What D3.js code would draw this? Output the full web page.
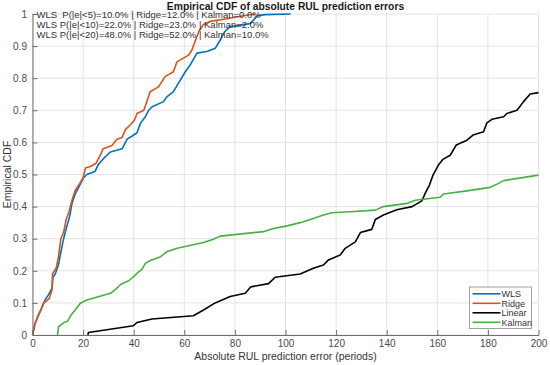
<!DOCTYPE html>
<html>
<head>
<meta charset="utf-8">
<script src="https://cdn.jsdelivr.net/npm/d3@7"></script>
<style>
  body { margin: 0; background: #fff; }
  text { font-family: "Liberation Sans", Arial, sans-serif; }
</style>
</head>
<body>
<div id="wrapper"></div>
<script>
// values
const wlsX = [0, 1.05, 2.4, 4.1, 5, 6.3, 7.7, 8.1, 9, 10.3, 11, 12.3, 13.6, 14.7, 15.6, 16.9, 18.9, 20.2, 21.5, 24.8, 25.9, 28.1, 30.8, 35.4, 37.4, 39.4, 41.3, 42.7, 44.6, 45.9, 47.3, 51.8, 53.1, 55.7, 58.4, 60.4, 62.3, 65, 68.9, 72.2, 74.2, 76, 78, 86, 89, 92, 102];
const wlsY = [0, 0.036, 0.062, 0.093, 0.11, 0.125, 0.145, 0.18, 0.19, 0.22, 0.25, 0.3, 0.34, 0.37, 0.41, 0.44, 0.47, 0.49, 0.5, 0.51, 0.53, 0.55, 0.57, 0.58, 0.61, 0.62, 0.63, 0.66, 0.68, 0.7, 0.711, 0.727, 0.742, 0.758, 0.794, 0.82, 0.841, 0.878, 0.883, 0.893, 0.919, 0.945, 0.96, 0.97, 0.995, 0.998, 1.0];

const ridgeX = [0, 0.8, 2, 3.3, 4.4, 5.4, 6.7, 7.7, 7.9, 9.4, 10.3, 11.2, 12.3, 13.3, 14.5, 15.6, 16.9, 18.5, 20, 20.9, 22.9, 25.1, 26.8, 27.9, 31.4, 33.4, 35.4, 36.7, 38.7, 40.3, 41.3, 44, 45.3, 46.5, 49.8, 52.4, 55.7, 57.1, 61.7, 63, 64.5, 66, 67.6, 70.2, 76.8, 82.1, 88];
const ridgeY = [0, 0.03, 0.057, 0.078, 0.1, 0.105, 0.115, 0.14, 0.19, 0.21, 0.245, 0.3, 0.32, 0.36, 0.385, 0.42, 0.45, 0.47, 0.49, 0.52, 0.525, 0.535, 0.56, 0.58, 0.59, 0.61, 0.615, 0.64, 0.655, 0.67, 0.69, 0.7, 0.73, 0.758, 0.773, 0.805, 0.82, 0.851, 0.872, 0.888, 0.92, 0.95, 0.967, 0.977, 0.985, 0.993, 1.0];

const linearX = [21.9, 22.1, 39.9, 41.3, 47.2, 63.6, 67.6, 72.2, 78.1, 84.1, 86.3, 93.3, 95.9, 105.8, 111, 115, 117, 121.6, 123.6, 127.6, 129.6, 134.1, 135.5, 138.7, 144, 150, 153.9, 155.2, 156.9, 158.3, 160.5, 162.2, 165.1, 167.5, 171.7, 174.1, 178.3, 179.6, 181.6, 186.2, 187.5, 191.5, 194.1, 196.7, 200];
const linearY = [0, 0.008, 0.029, 0.039, 0.05, 0.06, 0.078, 0.1, 0.12, 0.13, 0.15, 0.16, 0.18, 0.19, 0.208, 0.218, 0.234, 0.249, 0.27, 0.29, 0.319, 0.329, 0.36, 0.374, 0.39, 0.4, 0.418, 0.441, 0.467, 0.498, 0.53, 0.547, 0.56, 0.592, 0.607, 0.623, 0.633, 0.661, 0.672, 0.68, 0.69, 0.7, 0.727, 0.751, 0.755];

const kalmanX = [9.9, 10.3, 12.3, 14, 15.2, 16.9, 18.9, 21.5, 30.8, 32.8, 35, 38, 40, 41.3, 43.3, 44.6, 46.6, 50.6, 53.2, 57.2, 67.6, 71.5, 74.2, 91.3, 95.3, 100.6, 105.8, 109.8, 114.4, 118.3, 125.6, 135.5, 138.7, 148, 151.3, 161.1, 162.4, 171.7, 180.9, 183.6, 186.2, 200];
const kalmanY = [0, 0.026, 0.038, 0.044, 0.062, 0.078, 0.099, 0.109, 0.13, 0.142, 0.158, 0.169, 0.182, 0.192, 0.205, 0.223, 0.232, 0.244, 0.26, 0.27, 0.288, 0.298, 0.308, 0.322, 0.332, 0.34, 0.35, 0.36, 0.372, 0.381, 0.384, 0.389, 0.4, 0.41, 0.42, 0.429, 0.439, 0.449, 0.46, 0.47, 0.481, 0.498];

const seriesNames = ["WLS", "Ridge", "Linear", "Kalman"];
const seriesColors = ["#0072BD", "#D95319", "#000000", "#45B045"];
const xTicks = [0, 20, 40, 60, 80, 100, 120, 140, 160, 180, 200];
const yTicks = [0, 0.1, 0.2, 0.3, 0.4, 0.5, 0.6, 0.7, 0.8, 0.9, 1];
const noteLines = [
  "WLS  P(|e|<5)=10.0% | Ridge=12.0% | Kalman=0.0%",
  "WLS P(|e|<10)=22.0% | Ridge=23.0% | Kalman=2.0%",
  "WLS P(|e|<20)=48.0% | Ridge=52.0% | Kalman=10.0%"
];

function drawChart() {
  const xs = [wlsX, ridgeX, linearX, kalmanX];
  const ys = [wlsY, ridgeY, linearY, kalmanY];
  const dataset = seriesNames.map((name, i) => ({
    name: name,
    color: seriesColors[i],
    points: xs[i].map((x, j) => ({ x: x, y: ys[i][j] }))
  }));

  let dimensions = {
    width: 550,
    height: 365,
    margin: { top: 14, right: 11.5, bottom: 30, left: 32.5 }
  };
  dimensions.boundedWidth = dimensions.width - dimensions.margin.left - dimensions.margin.right;
  dimensions.boundedHeight = dimensions.height - dimensions.margin.top - dimensions.margin.bottom;

  const wrapper = d3.select("#wrapper")
    .append("svg")
      .attr("width", dimensions.width)
      .attr("height", dimensions.height);

  const bounds = wrapper.append("g")
    .attr("transform", `translate(${dimensions.margin.left},${dimensions.margin.top})`);

  const xScale = d3.scaleLinear()
    .domain([0, 200])
    .range([0, dimensions.boundedWidth]);
  const yScale = d3.scaleLinear()
    .domain([0, 1])
    .range([dimensions.boundedHeight, 0]);

  // grid
  bounds.append("g")
    .selectAll("line")
    .data(xTicks)
    .join("line")
      .attr("x1", d => xScale(d)).attr("x2", d => xScale(d))
      .attr("y1", 0).attr("y2", dimensions.boundedHeight)
      .attr("stroke", "#e3e3e3").attr("stroke-width", 1);
  bounds.append("g")
    .selectAll("line")
    .data(yTicks)
    .join("line")
      .attr("x1", 0).attr("x2", dimensions.boundedWidth)
      .attr("y1", d => yScale(d)).attr("y2", d => yScale(d))
      .attr("stroke", "#e3e3e3").attr("stroke-width", 1);

  // curves
  const lineGen = d3.line()
    .x(d => xScale(d.x))
    .y(d => yScale(d.y));

  bounds.append("g")
    .selectAll("path")
    .data(dataset)
    .join("path")
      .attr("d", d => lineGen(d.points))
      .attr("fill", "none")
      .attr("stroke", d => d.color)
      .attr("stroke-width", 1.6)
      .attr("stroke-linejoin", "round");

  // axes, ticks pointing inward like matlab
  const xAxis = d3.axisBottom(xScale).tickValues(xTicks).tickSizeInner(-5).tickSizeOuter(0).tickPadding(4.5);
  const yAxis = d3.axisLeft(yScale).tickValues(yTicks).tickFormat(d3.format("")).tickSizeInner(-5).tickSizeOuter(0).tickPadding(5.5);

  const gx = bounds.append("g")
    .attr("transform", `translate(0,${dimensions.boundedHeight})`)
    .call(xAxis);
  const gy = bounds.append("g").call(yAxis);
  [gx, gy].forEach(g => {
    g.select(".domain").attr("stroke", "#6e6e6e");
    g.selectAll(".tick line").attr("stroke", "#6e6e6e");
    g.selectAll(".tick text")
      .attr("fill", "#4a4a4a")
      .style("font-size", "10px")
      .style("font-family", "'Liberation Sans', Arial, sans-serif");
  });

  // labels
  wrapper.append("text")
    .attr("x", dimensions.margin.left + dimensions.boundedWidth / 2)
    .attr("y", 10)
    .attr("text-anchor", "middle")
    .style("font-size", "10.3px")
    .style("font-weight", "bold")
    .attr("fill", "#1a1a1a")
    .text("Empirical CDF of absolute RUL prediction errors");

  wrapper.append("text")
    .attr("x", dimensions.margin.left + dimensions.boundedWidth / 2)
    .attr("y", 359.5)
    .attr("text-anchor", "middle")
    .style("font-size", "10.5px")
    .attr("fill", "#333")
    .text("Absolute RUL prediction error (periods)");

  wrapper.append("text")
    .attr("transform", `translate(11,${dimensions.margin.top + dimensions.boundedHeight / 2}) rotate(-90)`)
    .attr("text-anchor", "middle")
    .style("font-size", "10.5px")
    .attr("fill", "#333")
    .text("Empirical CDF");

  // annotation text
  bounds.append("g")
    .selectAll("text")
    .data(noteLines)
    .join("text")
      .attr("x", 4)
      .attr("y", (d, i) => 4.3 + i * 10)
      .style("font-size", "9.5px")
      .style("white-space", "pre")
      .attr("xml:space", "preserve")
      .attr("fill", "#333")
      .text(d => d);

  // legend
  const legend = bounds.append("g")
    .attr("transform", `translate(${dimensions.boundedWidth - 69},${dimensions.boundedHeight - 48})`);
  legend.append("rect")
    .attr("width", 62).attr("height", 41.5)
    .attr("fill", "#fff").attr("stroke", "#8a8a8a").attr("stroke-width", 0.8);
  const rows = legend.selectAll("g")
    .data(dataset)
    .join("g")
      .attr("transform", (d, i) => `translate(0,${6.8 + i * 9.5})`);
  rows.append("line")
    .attr("x1", 3).attr("x2", 31)
    .attr("stroke", d => d.color).attr("stroke-width", 1.6);
  rows.append("text")
    .attr("x", 32).attr("y", 3.2)
    .style("font-size", "9px")
    .attr("fill", "#333")
    .text(d => d.name);
}

drawChart();
</script>
</body>
</html>
